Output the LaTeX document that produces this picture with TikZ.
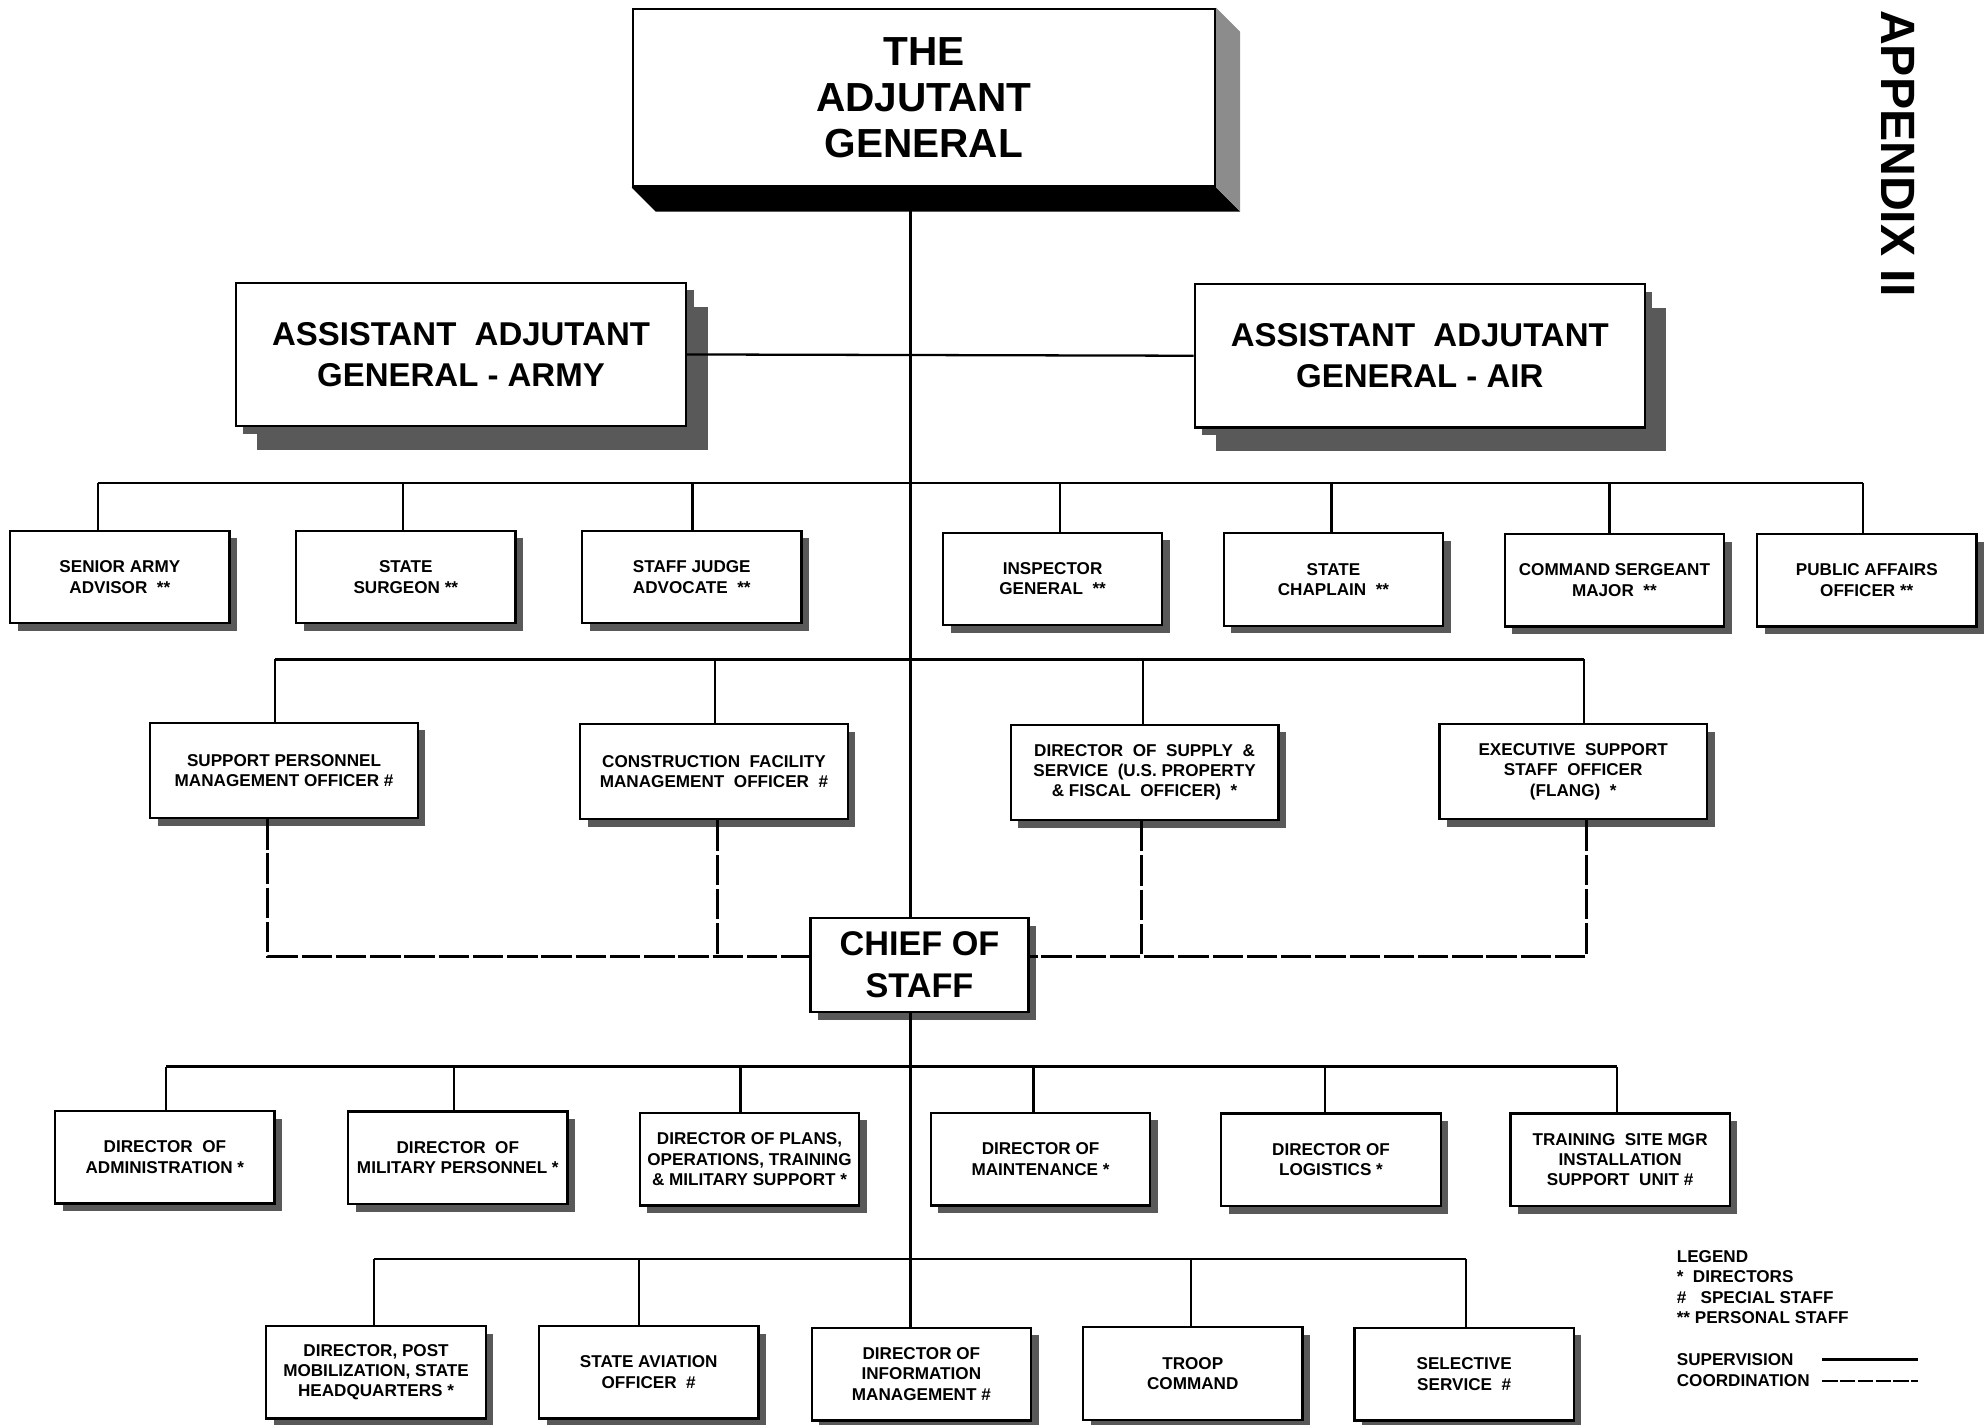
\documentclass[tikz,border=0pt]{standalone}
\usepackage{fontspec}
\setmainfont{Liberation Sans}
\usetikzlibrary{shadows}
\begin{document}
\begin{tikzpicture}[x=1pt, y=-1pt, font=\bfseries,
	link/.style={line width=1.8pt},
	coord/.style={line width=2.2pt, dash pattern=on 24pt off 3pt},
	post/.style={draw, line width=1.8pt, fill=white, align=center, inner sep=0pt,
		minimum width=173pt, minimum height=73pt,
		font=\fontsize{13.5}{16}\selectfont\bfseries,
		drop shadow={shadow xshift=6pt, shadow yshift=-6pt, fill=black!65, opacity=1}},
	wide/.style={post, minimum width=211pt, minimum height=75pt},
	aag/.style={post, minimum width=355pt, minimum height=113pt,
		font=\fontsize{26}{32}\selectfont\bfseries,
		drop shadow={shadow xshift=17pt, shadow yshift=-19pt, fill=black!65, opacity=1}},
	key/.style={inner sep=0pt, anchor=west, font=\fontsize{13.5}{16}\selectfont\bfseries}]
	\useasboundingbox (0,0) rectangle (1566,1123);
	%top
	\node[draw, line width=1.8pt, fill=white, align=center, inner sep=0pt,
		minimum width=459pt, minimum height=140pt,
		font=\fontsize{32}{36}\selectfont\bfseries] (tag) at (728.5,77) {THE\\ADJUTANT\\GENERAL};
	\fill[black] (tag.south west) -- ++(19,19) -- ([shift={(19,19)}]tag.south east) -- (tag.south east) -- cycle;
	\fill[black!45] (tag.north east) -- ([shift={(19,19)}]tag.north east)
		-- ([shift={(19,19)}]tag.south east) -- (tag.south east) -- cycle;
	\node[aag] (army) at (363.5,279.5) {ASSISTANT\ \ ADJUTANT\\GENERAL - ARMY};
	\node[aag] (air) at (1119.5,280.5) {ASSISTANT\ \ ADJUTANT\\GENERAL - AIR};
	%personal staff
	\foreach \n/\x/\y/\t in {
		sra/94.5/455/{SENIOR ARMY\\ADVISOR\ \ **},
		surgeon/320/455/{STATE\\SURGEON **},
		sja/545.5/455/{STAFF JUDGE\\ADVOCATE\ \ **},
		ig/830/456.5/{INSPECTOR\\GENERAL\ \ **},
		chaplain/1051.5/457/{STATE\\CHAPLAIN\ \ **},
		csm/1273/457.5/{COMMAND SERGEANT\\MAJOR\ \ **},
		pao/1472/457.5/{PUBLIC AFFAIRS\\OFFICER **}}
	\node[post] (\n) at (\x,\y) {\t};
	%special staff
	\foreach \n/\x/\y/\t in {
		spmo/224/607.5/{SUPPORT PERSONNEL\\MANAGEMENT OFFICER \#},
		cfmo/563/608.5/{CONSTRUCTION\ \ FACILITY\\MANAGEMENT\ \ OFFICER\ \ \#},
		dss/902.5/609/{DIRECTOR\ \ OF\ \ SUPPLY\ \ \&\\SERVICE\ \ (U.S. PROPERTY\\\& FISCAL\ \ OFFICER)\ \ *},
		esso/1240.5/608.5/{EXECUTIVE\ \ SUPPORT\\STAFF\ \ OFFICER\\(FLANG)\ \ *}}
	\node[wide] (\n) at (\x,\y) {\t};
	\node[post, minimum width=172pt, minimum height=74pt,
		font=\fontsize{27}{33}\selectfont\bfseries] (cos) at (725,761) {CHIEF OF\\STAFF};
	%directors
	\foreach \n/\x/\y/\t in {
		dadm/130/912.5/{DIRECTOR\ \ OF\\ADMINISTRATION *},
		dmp/361/913/{DIRECTOR\ \ OF\\MILITARY PERSONNEL *},
		dplans/591/914/{DIRECTOR OF PLANS,\\OPERATIONS, TRAINING\\\& MILITARY SUPPORT *},
		dmaint/820.5/914/{DIRECTOR OF\\MAINTENANCE *},
		dlog/1049.5/914.5/{DIRECTOR OF\\LOGISTICS *},
		tsm/1277.5/914.5/{TRAINING\ \ SITE MGR\\INSTALLATION\\SUPPORT\ \ UNIT \#}}
	\node[post] (\n) at (\x,\y) {\t};
	\foreach \n/\x/\y/\t in {
		dpm/296.5/1082/{DIRECTOR, POST\\MOBILIZATION, STATE\\HEADQUARTERS *},
		sao/511.5/1082/{STATE AVIATION\\OFFICER\ \ \#},
		dim/726.5/1083.5/{DIRECTOR OF\\INFORMATION\\MANAGEMENT \#},
		troop/940.5/1083/{TROOP\\COMMAND},
		ss/1154.5/1083.5/{SELECTIVE\\SERVICE\ \ \#}}
	\node[post] (\n) at (\x,\y) {\t};
	%supervision
	\coordinate (trunk) at (718,0);
	\draw[link] (tag.south -| trunk) -- (cos.north -| trunk);
	\draw[link] (cos.south -| trunk) -- (dim.north -| trunk);
	\draw[link] (army.east) -- (air.west);
	\draw[link] (77,381) -- (1469,381);
	\foreach \x/\n in {77/sra, 318/surgeon, 546/sja, 836/ig, 1050/chaplain, 1269/csm, 1469/pao}
	\draw[link] (\x,381) -- (\x,381 |- \n.north);
	\draw[link] (217,520) -- (1249,520);
	\foreach \x/\n in {217/spmo, 564/cfmo, 901/dss, 1249/esso}
	\draw[link] (\x,520) -- (\x,520 |- \n.north);
	\draw[link] (131,841) -- (1275,841);
	\foreach \x/\n in {131/dadm, 358/dmp, 584/dplans, 815/dmaint, 1045/dlog, 1275/tsm}
	\draw[link] (\x,841) -- (\x,841 |- \n.north);
	\draw[link] (295,993) -- (1156,993);
	\foreach \x/\n in {295/dpm, 504/sao, 939/troop, 1156/ss}
	\draw[link] (\x,993) -- (\x,993 |- \n.north);
	%coordination
	\draw[coord] (211,754 |- spmo.south) -- (211,754) -- (211,754 -| cos.west);
	\draw[coord] (566,754 |- cfmo.south) -- (566,754);
	\draw[coord] (1251,754 |- esso.south) -- (1251,754) -- (1251,754 -| cos.east);
	\draw[coord] (900,754 |- dss.south) -- (900,754);
	%legend
	\node[key] (legend) at (1322,991) {LEGEND};
	\node[key] (kdir) at (1322,1007) {*\ \ DIRECTORS};
	\node[key] (kspec) at (1322,1023) {\#\ \ \ SPECIAL STAFF};
	\node[key] (kpers) at (1322,1039) {** PERSONAL STAFF};
	\node[key] (ksup) at (1322,1072) {SUPERVISION};
	\node[key] (kcoo) at (1322,1089) {COORDINATION};
	\draw[link] (1437,0 |- ksup.east) -- (1512,0 |- ksup.east);
	\draw[link, dash pattern=on 12pt off 2pt] (1437,0 |- kcoo.east) -- (1512,0 |- kcoo.east);
	\node[rotate=-90, inner sep=0pt, font=\fontsize{38}{40}\selectfont\bfseries] (appx) at (1497,121) {APPENDIX II};
\end{tikzpicture}
\end{document}
